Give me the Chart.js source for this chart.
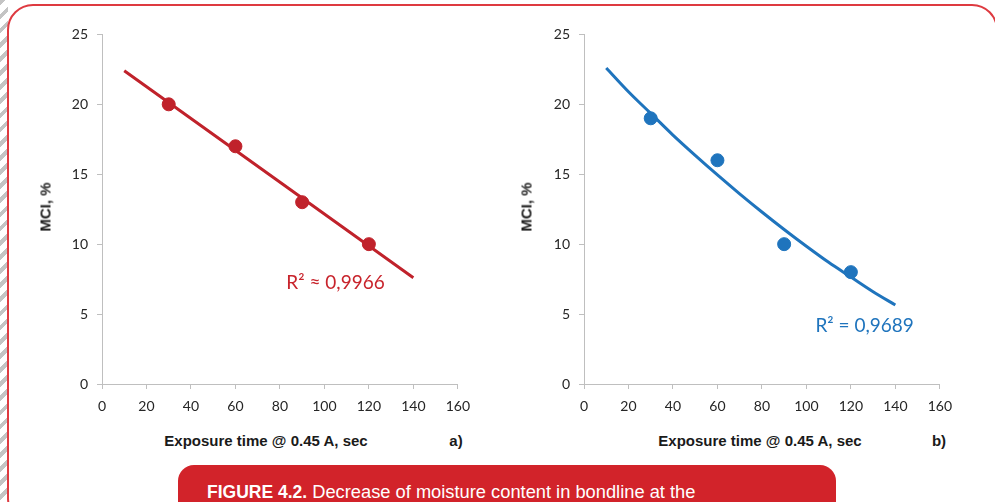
<!DOCTYPE html>
<html>
<head>
<meta charset="utf-8">
<script src="https://cdn.jsdelivr.net/npm/chart.js@4.4.1/dist/chart.umd.min.js"></script>
<style>
  html, body { margin: 0; padding: 0; background: #fff; }
  body { width: 995px; height: 502px; position: relative; overflow: hidden; }
  .hatch { position: absolute; left: 0; top: 0; width: 8px; height: 502px;
    background: repeating-linear-gradient(135deg, #c4c4c4 0 4px, #fff 4px 10px); }
  .frame { position: absolute; left: 7px; top: 4px; width: 991px; height: 520px;
    border: 2px solid #de3a40; border-radius: 26px; box-sizing: border-box; background: #fff; }
  canvas { position: absolute; }
  .ytitle { position: absolute; font: bold 15px "Liberation Sans", Arial, sans-serif; color: #1a1a1a;
    transform: translate(-50%, -50%) rotate(-90deg); white-space: nowrap; }
  .xtitle { position: absolute; font: bold 15px "Liberation Sans", Arial, sans-serif; color: #1a1a1a;
    transform: translate(-50%, -50%); white-space: nowrap; }
  .caption { position: absolute; left: 178px; top: 465px; width: 658px; height: 50px;
    background: #d2232a; border-radius: 16px 16px 0 0; color: #fff;
    font: 18.3px "Liberation Sans", Arial, sans-serif; padding: 16px 0 0 29px; box-sizing: border-box; }
  .caption b { font-weight: bold; font-size: 17.5px; }
</style>
</head>
<body>
<div class="hatch"></div>
<div class="frame"></div>

<canvas id="chartA" width="459" height="400" style="left:20px;top:17px"></canvas>
<canvas id="chartB" width="459" height="400" style="left:502px;top:17px"></canvas>

<div class="ytitle" style="left:45px;top:207px">MCI, %</div>
<div class="ytitle" style="left:526px;top:207px">MCI, %</div>
<div class="xtitle" style="left:266px;top:440px">Exposure time @ 0.45 A, sec</div>
<div class="xtitle" style="left:456px;top:440px">a)</div>
<div class="xtitle" style="left:760px;top:440px">Exposure time @ 0.45 A, sec</div>
<div class="xtitle" style="left:939px;top:440px">b)</div>

<div class="caption"><b>FIGURE 4.2.</b> Decrease of moisture content in bondline at the</div>

<script>
// measured points
const exposureTimes = [30, 60, 90, 120];
const mciA = [20, 17, 13, 10];
const mciB = [19, 16, 10, 8];

// trend lines
const trendAX = [10, 140];
const trendAY = [22.4, 7.6];
const trendBX = [10, 20, 30, 40, 50, 60, 70, 80, 90, 100, 110, 120, 130, 140];
const trendBY = [22.6, 20.9, 19.35, 17.8, 16.35, 14.95, 13.6, 12.3, 11.05, 9.85, 8.7, 7.65, 6.6, 5.65];

// axis ticks
const xTickLabels = [0, 20, 40, 60, 80, 100, 120, 140, 160];
const yTickLabels = [0, 5, 10, 15, 20, 25];

const redColor = "#c0222b";
const blueColor = "#1f74bd";

const toPts = (xs, ys) => xs.map((x, i) => ({ x: x, y: ys[i] }));

const r2Label = {
  id: "r2Label",
  afterDatasetsDraw(chart, args, opts) {
    const c = chart.ctx;
    const px = chart.scales.x.getPixelForValue(opts.x);
    const py = chart.scales.y.getPixelForValue(opts.y);
    c.save();
    c.font = "19px Lato, 'Open Sans', sans-serif";
    c.fillStyle = opts.color;
    c.textAlign = "center";
    c.textBaseline = "middle";
    c.fillText(opts.text, px, py);
    c.restore();
  }
};

function makeChart(id, ys, trendX, trendY, color, r2) {
  const tickFont = { family: "Lato, 'Open Sans', sans-serif", size: 14 };
  return new Chart(document.getElementById(id), {
    type: "scatter",
    data: {
      datasets: [
        {
          data: toPts(exposureTimes, ys),
          backgroundColor: color,
          borderColor: color,
          pointRadius: 6.5,
          pointHoverRadius: 6.5,
          showLine: false
        },
        {
          data: toPts(trendX, trendY),
          borderColor: color,
          borderWidth: 3,
          pointRadius: 0,
          showLine: true,
          tension: 0.3,
          cubicInterpolationMode: "monotone",
          fill: false
        }
      ]
    },
    options: {
      responsive: false,
      animation: false,
      layout: { padding: { top: 2, right: 13, left: 0, bottom: 0 } },
      plugins: {
        legend: { display: false },
        tooltip: { enabled: false },
        r2Label: r2
      },
      scales: {
        x: {
          type: "linear",
          min: xTickLabels[0],
          max: xTickLabels[xTickLabels.length - 1],
          afterBuildTicks: s => { s.ticks = xTickLabels.map(v => ({ value: v })); },
          afterFit: s => { s.height = 33; },
          border: { color: "#bfbfbf", width: 1 },
          grid: { drawOnChartArea: false, tickLength: 5, color: "#bfbfbf" },
          ticks: { font: tickFont, color: "#262626", padding: 9, maxRotation: 0, autoSkip: false }
        },
        y: {
          min: yTickLabels[0],
          max: yTickLabels[yTickLabels.length - 1],
          afterBuildTicks: s => { s.ticks = yTickLabels.map(v => ({ value: v })); },
          afterFit: s => { s.width = 82; },
          border: { color: "#bfbfbf", width: 1 },
          grid: { drawOnChartArea: false, tickLength: 5, color: "#bfbfbf" },
          ticks: { font: tickFont, color: "#262626", padding: 9, autoSkip: false }
        }
      }
    },
    plugins: [r2Label]
  });
}

makeChart("chartA", mciA, trendAX, trendAY, redColor,
  { text: "R\u00B2 \u2248 0,9966", x: 105, y: 7.2, color: "#c8242c" });
makeChart("chartB", mciB, trendBX, trendBY, blueColor,
  { text: "R\u00B2 = 0,9689", x: 126.2, y: 4.15, color: "#1f74bd" });
</script>
</body>
</html>
